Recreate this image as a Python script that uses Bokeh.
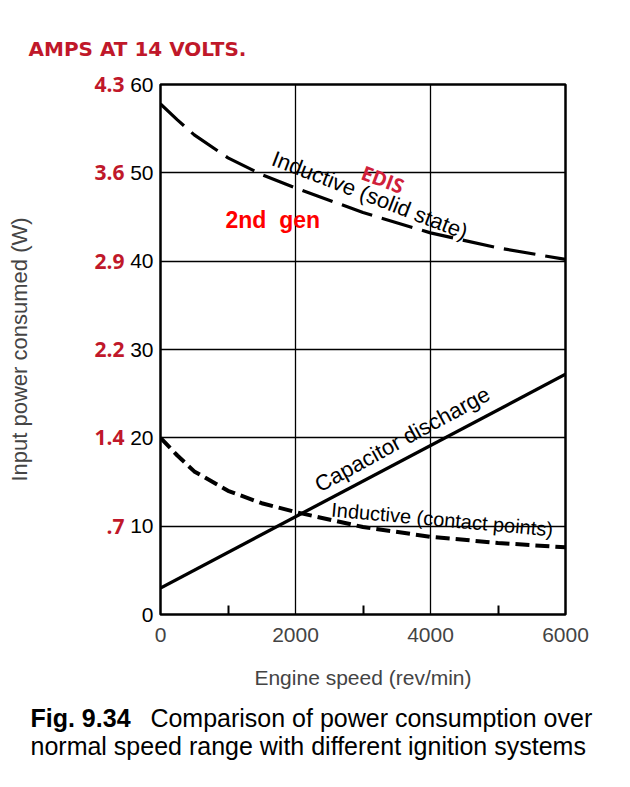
from bokeh.plotting import figure
from bokeh.models import Range1d, FixedTicker, LinearAxis, Label
from bokeh.embed import file_html
from bokeh.resources import INLINE

# ---- data ----
rpm = [0, 250, 500, 1000, 1500, 2000, 3000, 4000, 5000, 6000]
solid_state_w = [57.8, 56.0, 54.3, 51.7, 49.8, 48.3, 45.5, 43.2, 41.5, 40.2]
contact_points_w = [20.0, 18.0, 16.2, 14.0, 12.6, 11.6, 9.9, 8.8, 8.1, 7.6]
cap_rpm = [0, 6000]
cap_discharge_w = [3.0, 27.2]

x_ticks = [0, 2000, 4000, 6000]
x_minor = [1000, 3000, 5000]
y_ticks = [0, 10, 20, 30, 40, 50, 60]
amp_labels = {0: "", 10: ".7", 20: "1.4", 30: "2.2", 40: "2.9", 50: "3.6", 60: "4.3"}

FONT = "Liberation Sans"
RED = "#c0182a"

p = figure(width=625, height=775, output_backend="svg", toolbar_location=None,
           x_range=Range1d(0, 6000), y_range=Range1d(0, 60),
           min_border_left=160, min_border_right=60, min_border_top=84, min_border_bottom=158,
           y_axis_location=None, x_axis_location=None)
p.background_fill_color = "white"
p.border_fill_color = "white"
p.outline_line_color = "black"
p.outline_line_width = 2.5

p.title.text = "AMPS AT 14 VOLTS."
p.title.align = "left"
p.title.offset = -132
p.title.standoff = 47
p.title.text_font = "DejaVu Sans"
p.title.text_font_style = "bold"
p.title.text_font_size = "20px"
p.title.text_color = RED

# black y axis (watts)
yax = LinearAxis(ticker=FixedTicker(ticks=y_ticks))
yax.axis_line_color = None
yax.major_tick_line_color = None
yax.major_tick_in = 0
yax.major_tick_out = 0
yax.minor_tick_line_color = None
yax.major_label_text_font = FONT
yax.major_label_text_font_size = "21px"
yax.major_label_text_color = "black"
yax.major_label_standoff = 7
p.add_layout(yax, "left")

# red y axis (amps)
aax = LinearAxis(ticker=FixedTicker(ticks=y_ticks))
aax.major_label_overrides = amp_labels
aax.axis_line_color = None
aax.major_tick_line_color = None
aax.major_tick_in = 0
aax.major_tick_out = 0
aax.minor_tick_line_color = None
aax.major_label_text_font = "Open Sans"
aax.major_label_text_font_style = "bold"
aax.major_label_text_font_size = "21px"
aax.major_label_text_color = RED
aax.major_label_standoff = 3
aax.axis_label = "Input power consumed (W)"
aax.axis_label_text_font = FONT
aax.axis_label_text_font_style = "normal"
aax.axis_label_text_font_size = "22px"
aax.axis_label_standoff = 59
p.add_layout(aax, "left")

# x axis
xax = LinearAxis(ticker=FixedTicker(ticks=x_ticks, minor_ticks=x_minor))
xax.axis_line_color = None
xax.major_tick_line_color = None
xax.major_tick_in = 0
xax.major_tick_out = 0
xax.minor_tick_line_color = "black"
xax.minor_tick_line_width = 2
xax.minor_tick_in = 9
xax.minor_tick_out = 0
xax.major_label_text_font = FONT
xax.major_label_text_font_size = "21px"
xax.major_label_standoff = 13
xax.axis_label = "Engine speed (rev/min)"
xax.axis_label_text_font = FONT
xax.axis_label_text_font_style = "normal"
xax.axis_label_text_font_size = "21px"
xax.axis_label_standoff = 21
p.add_layout(xax, "below")

p.xgrid.ticker = FixedTicker(ticks=[2000, 4000])
p.ygrid.ticker = FixedTicker(ticks=[10, 20, 30, 40, 50])
for g in (p.xgrid, p.ygrid):
    g.grid_line_color = "black"
    g.grid_line_width = 1.3
    g.grid_line_alpha = 1.0

# curves
p.line(rpm, solid_state_w, line_color="black", line_width=3.2, line_dash="32 10")
p.line(rpm, contact_points_w, line_color="black", line_width=4, line_dash="14 6")
p.line(cap_rpm, cap_discharge_w, line_color="black", line_width=3.3)

def mk(x, y, text, angle=0.0, size="20px", color="black", font=FONT, style="normal",
       baseline="bottom"):
    return Label(x=x, y=y, text=text, angle=angle, text_font=font,
                 text_font_size=size, text_color=color, text_font_style=style,
                 text_align="left", text_baseline=baseline)

p.add_layout(mk(1600, 50.4, "Inductive (solid state)", angle=-0.37, size="22px"))
p.add_layout(mk(2919, 48.7, "EDIS", angle=-0.36, size="20px", color="#d0203a", font="Open Sans", style="bold"))
p.add_layout(mk(963, 43.2, "2nd\u00a0 gen", size="23px", color="#ff0000", style="bold"))
p.add_layout(mk(2400, 13.3, "Capacitor discharge", angle=0.5, size="22px"))
p.add_layout(mk(2518, 10.65, "Inductive (contact points)", angle=-0.09, size="20px"))

# caption below the frame (side panel, not clipped)
p.add_layout(mk(-1926, -11.75, "Fig. 9.34", size="25px", style="bold", baseline="alphabetic"), "below")
p.add_layout(mk(-150, -11.75, "Comparison of power consumption over", size="25px", baseline="alphabetic"), "below")
p.add_layout(mk(-1926, -14.9, "normal speed range with different ignition systems", size="25px", baseline="alphabetic"), "below")

open("out.html", "w").write(file_html(p, INLINE))
